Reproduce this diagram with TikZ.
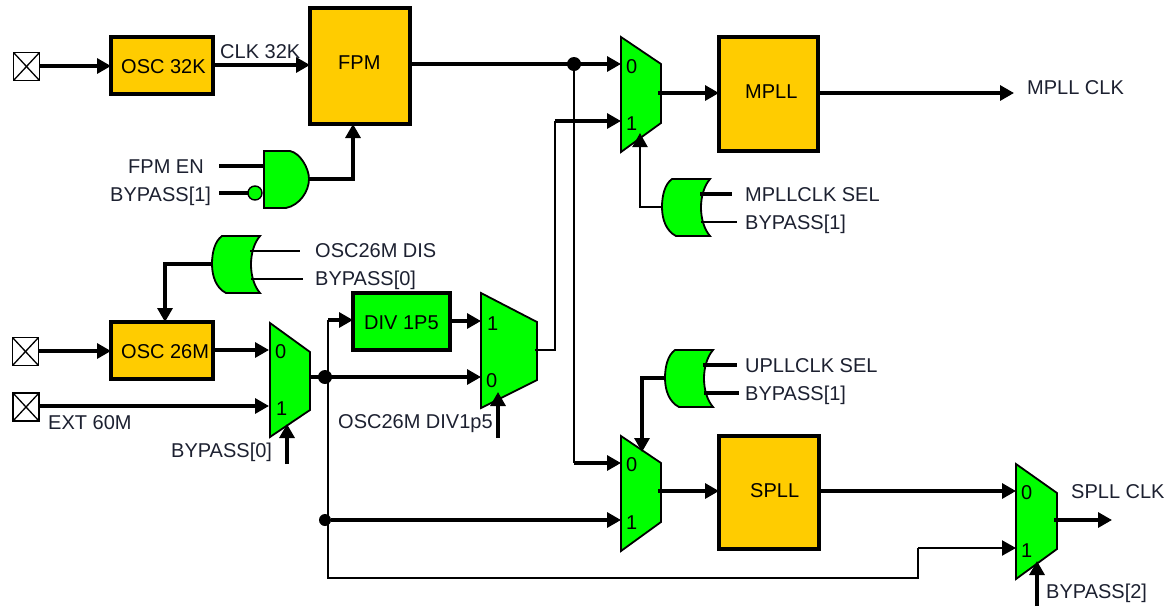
\documentclass[tikz,border=0pt]{standalone}
\usepackage{fontspec}
\setmainfont{Liberation Sans}
\usetikzlibrary{arrows.meta}
\definecolor{boxorange}{HTML}{FFCC00}
\definecolor{gategreen}{HTML}{00FF00}
\definecolor{labelink}{HTML}{1C2030}
\tikzset{
  x=1pt,y=-1pt,
  wire/.style={line width=3.2pt,draw=black},
  thinwire/.style={line width=2.2pt,draw=black},
  arrowed/.style={-{Triangle[length=14pt,width=15pt]}},
  shapeline/.style={draw=black,line width=1.8pt,line join=miter},
  bx/.style={draw=black,line width=3.2pt,anchor=north west,inner sep=0pt,outer sep=0pt,font=\fontsize{20}{20}\selectfont},
  orangebox/.style={bx,fill=boxorange},
  greenbox/.style={bx,fill=gategreen},
  lbl/.style={anchor=base west,inner sep=0pt,font=\fontsize{20}{20}\selectfont,text=labelink},
  dgt/.style={anchor=base west,inner sep=0pt,font=\fontsize{20}{20}\selectfont,text=black},
  dot/.style={circle,fill=black,inner sep=0pt,minimum size=14pt},
  padsq/.style={draw=black,line width=1.8pt,fill=white,inner sep=0pt,outer sep=0pt,minimum width=26pt,minimum height=28pt},
}
% mux: name, xl, xr, ytl, ytr, ybr, ybl
\newcommand{\muxat}[7]{%
  \draw[shapeline,fill=gategreen] (#2,#4) -- (#3,#5) -- (#3,#6) -- (#2,#7) -- cycle;
}
% or gate with output on the left: name, west x, top y
\newcommand{\orgateat}[3]{%
  \begin{scope}[shift={(#2,#3)}]
    \draw[shapeline,fill=gategreen] (10,0) -- (48,0)
      .. controls (36,14) and (36,43) .. (48,57) -- (14,57)
      .. controls (4,52) and (0,40) .. (0,28)
      .. controls (0,16) and (3,5) .. (10,0) -- cycle;
    \coordinate (#1-out) at (0,28);
    \coordinate (#1-a) at (38,15);
    \coordinate (#1-b) at (39,43);
  \end{scope}
}
\begin{document}
\begin{tikzpicture}
\useasboundingbox (0,0) rectangle (1176,606);

% pads
\node[padsq] (padA) at (26.5,66.5) {};
\node[padsq] (padB) at (25.5,351.5) {};
\node[padsq] (padC) at (26,407) {};
\foreach \p in {padA,padB,padC}{
  \draw[line width=1.3pt] (\p.north west) -- (\p.south east) (\p.north east) -- (\p.south west);
}

% boxes
\node[orangebox,minimum width=102pt,minimum height=57pt] (osc32) at (111,37) {};
\node[orangebox,minimum width=100pt,minimum height=116pt] (fpm) at (310,8) {};
\node[orangebox,minimum width=99pt,minimum height=114pt] (mpll) at (719,37) {};
\node[orangebox,minimum width=100pt,minimum height=113pt] (spll) at (719,436) {};
\node[orangebox,minimum width=102pt,minimum height=57pt] (osc26) at (111,322) {};
\node[greenbox,minimum width=97pt,minimum height=57pt] (div) at (353,293) {};

% port coordinates
\coordinate (fpmOut) at (fpm.east |- 0,64);
\coordinate (m3i0) at (621,64);
\coordinate (m3i1) at (621,121);
\coordinate (m3out) at (658,93);
\coordinate (m4i0) at (621,463);
\coordinate (m4i1) at (621,520);
\coordinate (m4out) at (658,491);
\coordinate (m5i0) at (1016,491);
\coordinate (m5i1) at (1016,548);
\coordinate (m5out) at (1054,520);
\coordinate (m1i0) at (269,350);
\coordinate (m1i1) at (269,406);
\coordinate (m1out) at (309,377);
\coordinate (m2i1) at (481,321);
\coordinate (m2i0) at (481,377);
\coordinate (m2out) at (535,350);

% gates
\muxat{m1}{270}{310}{323}{352}{410}{437}
\muxat{m2}{481}{537}{293}{322}{380}{408}
\muxat{m3}{621}{661}{37}{64}{123}{152}
\muxat{m4}{621}{661}{436}{463}{522}{551}
\muxat{m5}{1016}{1057}{464}{493}{549}{579}
\orgateat{orTop}{212}{236}
\orgateat{orM}{662}{179}
\orgateat{orU}{665}{350}

% and gate
\draw[shapeline,fill=gategreen] (264,151) -- (290,151)
  .. controls (300,153) and (309,168) .. (309,179)
  .. controls (309,191) and (300,205) .. (286,208) -- (264,208) -- cycle;
\coordinate (andOut) at (309,179);
\coordinate (andA) at (264,166);
\node[circle,draw=black,line width=1.4pt,fill=gategreen,inner sep=0pt,outer sep=0pt,minimum size=14pt] (bubble) at (255,193) {};

% free ends
\coordinate (fpmEnEnd) at (219,166);
\coordinate (byp1End) at (219,193);
\coordinate (mpllEnd) at (1014,93);
\coordinate (spllEnd) at (1112,520);
\coordinate (disEnd) at (300,251);
\coordinate (byp0End) at (303,279);
\coordinate (selMa) at (732,194);
\coordinate (selMb) at (737,222);
\coordinate (selUa) at (737,365);
\coordinate (selUb) at (739,393);
\coordinate (s1from) at (287,464);
\coordinate (s1to) at (287,424);
\coordinate (s2from) at (498,438);
\coordinate (s2to) at (498,392);
\coordinate (s3from) at (1037,606);
\coordinate (s3to) at (1037,561);

% connectors
\draw[wire,arrowed] (padA.east |- 0,66) -- (osc32.west |- 0,66);
\draw[wire,arrowed] (osc32.east |- 0,65) -- (fpm.west |- 0,65);
\draw[wire,arrowed] (fpmOut) -- (m3i0);
\draw[wire,arrowed] (m3out) -- (mpll.west |- m3out);
\draw[wire,arrowed] (mpll.east |- m3out) -- (mpllEnd);
\draw[wire,arrowed] (andOut) -| (353,124);
\draw[wire] (fpmEnEnd) -- (andA);
\draw[wire] (byp1End) -- (bubble);
\draw[wire,arrowed] (orTop-out) -| (165,322);
\draw[thinwire] (orTop-a) -- (disEnd);
\draw[thinwire] (orTop-b) -- (byp0End);
\draw[wire,arrowed] (padB.east |- 0,351) -- (osc26.west |- 0,351);
\draw[wire,arrowed] (osc26.east |- m1i0) -- (m1i0);
\draw[wire,arrowed] (padC.east |- m1i1) -- (m1i1);
\draw[wire,arrowed] (div.east |- m2i1) -- (m2i1);
\draw[wire,arrowed] (m1out) -- (m2i0);
\node[dot] (j1) at (325,377) {};
\node[dot,minimum size=12pt] (j2) at (325,520) {};
\node[dot] (j3) at (574,64) {};
\coordinate (busTop) at (328,320);
\coordinate (busBot) at (328,578);
\coordinate (rise) at (918,578);
\draw[thinwire] (busTop) -- (busBot) -- (rise) -- (rise |- m5i1);
\draw[thinwire,arrowed] (rise |- m5i1) -- (m5i1);
\draw[wire,arrowed] (busTop) -- (div.west |- busTop);
\draw[wire,arrowed] (j2) -- (m4i1);
\draw[thinwire] (m2out) -- (555,350) -- (555,121);
\draw[wire,arrowed] (555,121) -- (m3i1);
\draw[thinwire] (j3) -- (574,463);
\draw[wire,arrowed] (574,463) -- (m4i0);
\draw[wire,arrowed] (m4out) -- (spll.west |- m4out);
\draw[wire,arrowed] (spll.east |- m5i0) -- (m5i0);
\draw[wire,arrowed] (m5out) -- (spllEnd);
\draw[thinwire,arrowed] (orM-out) -| (640,133);
\draw[wire] (orM-a) -- (selMa);
\draw[thinwire] (orM-b) -- (selMb);
\draw[wire,arrowed] (orU-out) -| (642,452);
\draw[wire] (orU-a) -- (selUa);
\draw[wire] (orU-b) -- (selUb);
\draw[wire,arrowed] (s1from) -- (s1to);
\draw[wire,arrowed] (s2from) -- (s2to);
\draw[wire,arrowed] (s3from) -- (s3to);

% box labels
\node[dgt] (tOsc32) at (121,73) {OSC 32K};
\node[dgt] (tFpm) at (338,69) {FPM};
\node[dgt] (tMpll) at (745,98) {MPLL};
\node[dgt] (tSpll) at (750,497) {SPLL};
\node[dgt] (tOsc26) at (121,358) {OSC 26M};
\node[dgt] (tDiv) at (364,329) {DIV 1P5};

% signal labels
\node[lbl] (tClk) at (220,58) {CLK 32K};
\node[lbl] (tEn) at (128,173) {FPM EN};
\node[lbl] (tB1a) at (110,201) {BYPASS[1]};
\node[lbl] (tDis) at (315,257) {OSC26M DIS};
\node[lbl] (tB0a) at (315,285) {BYPASS[0]};
\node[lbl] (tExt) at (48,429) {EXT 60M};
\node[lbl] (tB0b) at (171,457) {BYPASS[0]};
\node[lbl] (tDv) at (338,428) {OSC26M DIV1p5};
\node[lbl] (tMclk) at (1027,94) {MPLL CLK};
\node[lbl] (tMsel) at (745,201) {MPLLCLK SEL};
\node[lbl] (tB1b) at (745,229) {BYPASS[1]};
\node[lbl] (tUsel) at (745,372) {UPLLCLK SEL};
\node[lbl] (tB1c) at (745,400) {BYPASS[1]};
\node[lbl] (tSclk) at (1071,498) {SPLL CLK};
\node[lbl] (tB2) at (1046,598) {BYPASS[2]};

% mux digits
\node[dgt] (d10) at (275,358) {0};
\node[dgt] (d11) at (276,415) {1};
\node[dgt] (d21) at (487,330) {1};
\node[dgt] (d20) at (486,387) {0};
\node[dgt] (d30) at (626,73) {0};
\node[dgt] (d31) at (626,130) {1};
\node[dgt] (d40) at (626,471) {0};
\node[dgt] (d41) at (626,529) {1};
\node[dgt] (d50) at (1021,499) {0};
\node[dgt] (d51) at (1021,557) {1};
\end{tikzpicture}
\end{document}
